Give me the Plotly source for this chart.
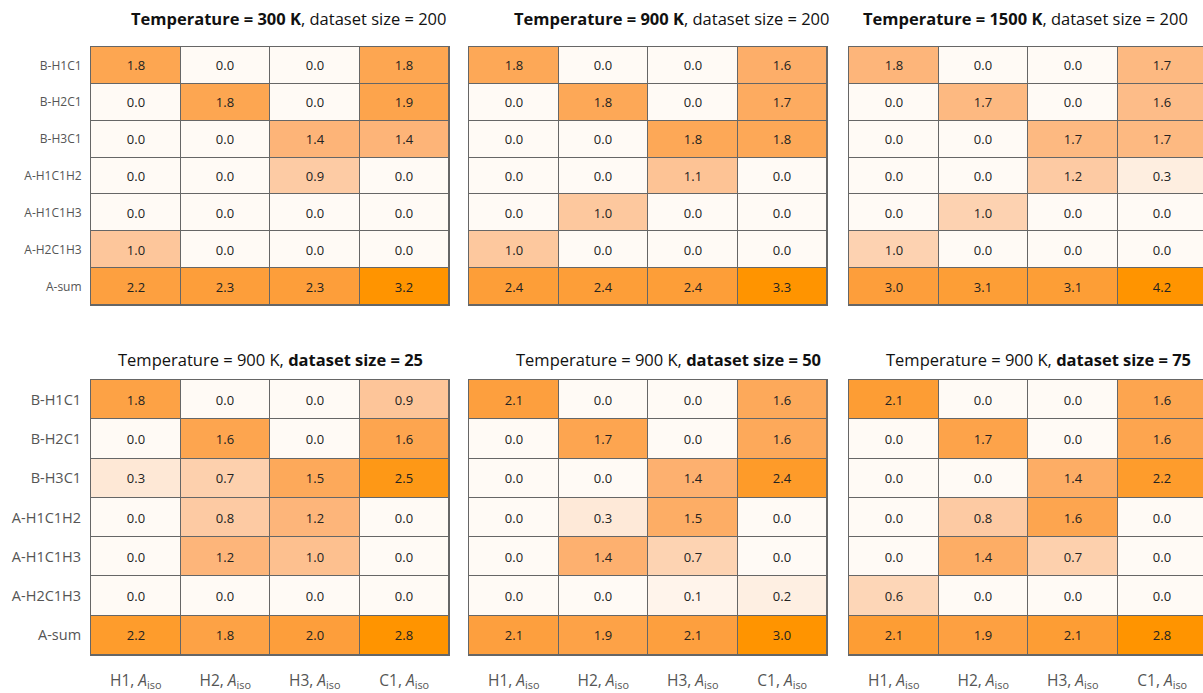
import plotly.graph_objects as go

rows = ["B-H1C1", "B-H2C1", "B-H3C1", "A-H1C1H2", "A-H1C1H3", "A-H2C1H3", "A-sum"]
cols = ["H1", "H2", "H3", "C1"]
col_labels = [f"{c}, <i>A</i><sub>iso</sub>" for c in cols]

t300_n200 = [
    [1.8, 0.0, 0.0, 1.8],
    [0.0, 1.8, 0.0, 1.9],
    [0.0, 0.0, 1.4, 1.4],
    [0.0, 0.0, 0.9, 0.0],
    [0.0, 0.0, 0.0, 0.0],
    [1.0, 0.0, 0.0, 0.0],
    [2.2, 2.3, 2.3, 3.2],
]
t900_n200 = [
    [1.8, 0.0, 0.0, 1.6],
    [0.0, 1.8, 0.0, 1.7],
    [0.0, 0.0, 1.8, 1.8],
    [0.0, 0.0, 1.1, 0.0],
    [0.0, 1.0, 0.0, 0.0],
    [1.0, 0.0, 0.0, 0.0],
    [2.4, 2.4, 2.4, 3.3],
]
t1500_n200 = [
    [1.8, 0.0, 0.0, 1.7],
    [0.0, 1.7, 0.0, 1.6],
    [0.0, 0.0, 1.7, 1.7],
    [0.0, 0.0, 1.2, 0.3],
    [0.0, 1.0, 0.0, 0.0],
    [1.0, 0.0, 0.0, 0.0],
    [3.0, 3.1, 3.1, 4.2],
]
t900_n25 = [
    [1.8, 0.0, 0.0, 0.9],
    [0.0, 1.6, 0.0, 1.6],
    [0.3, 0.7, 1.5, 2.5],
    [0.0, 0.8, 1.2, 0.0],
    [0.0, 1.2, 1.0, 0.0],
    [0.0, 0.0, 0.0, 0.0],
    [2.2, 1.8, 2.0, 2.8],
]
t900_n50 = [
    [2.1, 0.0, 0.0, 1.6],
    [0.0, 1.7, 0.0, 1.6],
    [0.0, 0.0, 1.4, 2.4],
    [0.0, 0.3, 1.5, 0.0],
    [0.0, 1.4, 0.7, 0.0],
    [0.0, 0.0, 0.1, 0.2],
    [2.1, 1.9, 2.1, 3.0],
]
t900_n75 = [
    [2.1, 0.0, 0.0, 1.6],
    [0.0, 1.7, 0.0, 1.6],
    [0.0, 0.0, 1.4, 2.2],
    [0.0, 0.8, 1.6, 0.0],
    [0.0, 1.4, 0.7, 0.0],
    [0.6, 0.0, 0.0, 0.0],
    [2.1, 1.9, 2.1, 2.8],
]

panels = [
    (t300_n200, "<b>Temperature = 300 K</b>, dataset size = 200"),
    (t900_n200, "<b>Temperature = 900 K</b>, dataset size = 200"),
    (t1500_n200, "<b>Temperature = 1500 K</b>, dataset size = 200"),
    (t900_n25, "Temperature = 900 K, <b>dataset size = 25</b>"),
    (t900_n50, "Temperature = 900 K, <b>dataset size = 50</b>"),
    (t900_n75, "Temperature = 900 K, <b>dataset size = 75</b>"),
]

W, H = 1203, 693
FONT = "Open Sans"
LINE = "#666666"

scale = [
    [0.0, "#fffaf5"],
    [0.1, "#fee9d8"],
    [0.3, "#fdc89f"],
    [0.45, "#fdb274"],
    [0.57, "#fda54f"],
    [0.7, "#fd9f3e"],
    [1.0, "#ff9400"],
]

# pixel boxes of the panels: (left, right) and (top, bottom)
x_boxes = [(91, 449), (469, 827), (849, 1207)]
y_boxes = [(47, 305), (380, 655)]
# title centres (x) per panel and title middles (y) per row
title_x = [288, 671, 1025, 270, 668, 1038]
title_y = [18, 360]

fig = go.Figure()
annotations = []

for i, (vals, title) in enumerate(panels):
    r, c = divmod(i, 3)
    n = i + 1
    xa = "x" if n == 1 else f"x{n}"
    ya = "y" if n == 1 else f"y{n}"
    left, right = x_boxes[c]
    top, bottom = y_boxes[r]
    zmax = max(max(row) for row in vals)

    fig.add_trace(go.Heatmap(
        z=vals, x=cols, y=rows,
        xaxis=xa, yaxis=ya,
        colorscale=scale, zmin=0, zmax=zmax,
        showscale=False, xgap=1, ygap=1,
        texttemplate="%{z:.1f}",
        textfont=dict(family=FONT, size=13, color="#222222"),
        hoverinfo="skip",
    ))

    # the right-hand panel runs past the page edge and is clipped there
    vis_right = min(right, W)
    col_w = (right - left) / 4
    x_hi = 3.5 - (right - vis_right) / col_w

    xkey = "xaxis" if n == 1 else f"xaxis{n}"
    ykey = "yaxis" if n == 1 else f"yaxis{n}"
    fig.layout[xkey] = dict(
        domain=[left / W, vis_right / W],
        anchor=ya,
        range=[-0.5, x_hi],
        tickmode="array", tickvals=list(range(4)), ticktext=col_labels,
        showticklabels=(r == 1), ticks="",
        ticklabelstandoff=11,
        tickfont=dict(family=FONT, size=15.5, color="#555555"),
        showline=True, mirror=True, linecolor=LINE, linewidth=1,
        showgrid=False, zeroline=False, fixedrange=True,
    )
    fig.layout[ykey] = dict(
        domain=[1 - bottom / H, 1 - top / H],
        anchor=xa,
        range=[6.5, -0.5],
        tickmode="array", tickvals=list(range(7)), ticktext=rows,
        showticklabels=(c == 0), ticks="",
        ticklabelstandoff=6,
        tickfont=dict(family=FONT, size=12 if r == 0 else 14.5, color="#555555"),
        showline=True, mirror=(c != 2), linecolor=LINE, linewidth=1,
        showgrid=False, zeroline=False, fixedrange=True,
    )

    annotations.append(dict(
        text=title, xref="paper", yref="paper",
        x=title_x[i] / W, y=1 - title_y[r] / H,
        xanchor="center", yanchor="middle", showarrow=False,
        font=dict(family=FONT, size=16.5, color="#111111"),
    ))

fig.update_layout(
    width=W, height=H,
    margin=dict(l=0, r=0, t=0, b=0),
    paper_bgcolor="white", plot_bgcolor=LINE,
    annotations=annotations,
    showlegend=False,
)

fig.write_html("out.html")
